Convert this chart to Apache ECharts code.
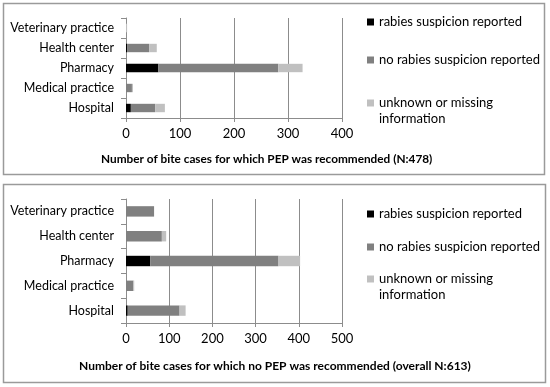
<!DOCTYPE html>
<html><head><meta charset="utf-8">
<script src="https://cdn.jsdelivr.net/npm/echarts@6/dist/echarts.min.js"></script>
<style>html,body{margin:0;padding:0;background:#fff}#c{width:550px;height:387px}</style>
</head><body><div id="c"></div>
<script>
const categories = ['Hospital', 'Medical practice', 'Pharmacy', 'Health center', 'Veterinary practice'];
const seriesNames = ['rabies suspicion reported', 'no rabies suspicion reported', 'unknown or missing information'];
// Top panel: PEP recommended (N:478)
const pepRabies   = [9, 0, 60, 2, 0];
const pepNoRabies = [45, 11, 222, 41, 0];
const pepUnknown  = [18, 2, 45, 14, 2];
// Bottom panel: no PEP recommended (overall N:613)
const noPepRabies   = [4, 0, 56, 0, 0];
const noPepNoRabies = [120, 17, 297, 83, 65];
const noPepUnknown  = [14, 2, 50, 10, 0];
const topTicks = [0, 100, 200, 300, 400];
const bottomTicks = [0, 100, 200, 300, 400, 500];
const topTitle = 'Number of bite cases for which PEP was recommended (N:478)';
const bottomTitle = 'Number of bite cases for which no PEP was recommended (overall N:613)';

const colors = ['#000000', '#808080', '#c0c0c0'];
const FONT = 'Lato';
const chart = echarts.init(document.getElementById('c'));

function xAx(idx, ticks) {
  return {
    type: 'value', gridIndex: idx, min: ticks[0], max: ticks[ticks.length - 1], interval: ticks[1] - ticks[0],
    axisLine: { show: true, lineStyle: { color: '#8c8c8c', width: 1 } },
    axisTick: { show: true, length: 4, lineStyle: { color: '#8c8c8c' } },
    splitLine: { show: true, lineStyle: { color: '#8c8c8c', width: 1 } },
    axisLabel: { color: '#000', fontFamily: FONT, fontSize: 13, margin: 9 }
  };
}
function yAx(idx) {
  return {
    type: 'category', gridIndex: idx, data: categories,
    axisLine: { show: true, lineStyle: { color: '#8c8c8c', width: 1 } },
    axisTick: { show: true, length: 5, inside: false, lineStyle: { color: '#8c8c8c' } },
    axisLabel: { color: '#000', fontFamily: FONT, fontSize: 12.5, margin: 12 }
  };
}
const data = [[pepRabies, pepNoRabies, pepUnknown], [noPepRabies, noPepNoRabies, noPepUnknown]];
const series = [];
for (let g = 0; g < 2; g++) {
  for (let s = 0; s < 3; s++) {
    series.push({
      name: seriesNames[s], type: 'bar', stack: 'g' + g, xAxisIndex: g, yAxisIndex: g,
      data: data[g][s], itemStyle: { color: colors[s] }, barCategoryGap: '58%', silent: true
    });
  }
}
const legendText = { color: '#000', fontFamily: FONT, fontSize: 13, lineHeight: 16 };
function legendA(top, gap) {
  return {
    orient: 'vertical', left: 362, top: top, itemGap: gap, icon: 'rect', itemWidth: 7, itemHeight: 7,
    selectedMode: false, data: [seriesNames[0], seriesNames[1]], textStyle: legendText
  };
}
function legendB(top) {
  return {
    orient: 'vertical', left: 362, top: top, icon: 'rect', itemWidth: 7, itemHeight: 7,
    selectedMode: false, data: [seriesNames[2]],
    formatter: n => ' \nunknown or missing\ninformation', textStyle: legendText
  };
}
chart.setOption({
  animation: false,
  grid: [
    { left: 126, top: 18, width: 216, height: 100 },
    { left: 126, top: 199, width: 216, height: 124 }
  ],
  xAxis: [xAx(0, topTicks), xAx(1, bottomTicks)],
  yAxis: [yAx(0), yAx(1)],
  legend: [legendA(9, 22), legendB(74), legendA(201, 17), legendB(250)],
  title: [
    { text: topTitle, left: 101, top: 153, padding: 0, textStyle: { fontFamily: FONT, fontSize: 11.8, fontWeight: 'bold', color: '#000' } },
    { text: bottomTitle, left: 79, top: 360, padding: 0, textStyle: { fontFamily: FONT, fontSize: 12, fontWeight: 'bold', color: '#000' } }
  ],
  graphic: [
    { type: 'rect', shape: { x: 3.5, y: 3.5, width: 541, height: 171 }, style: { fill: 'none', stroke: '#9a9a9a', lineWidth: 1.5 }, silent: true },
    { type: 'rect', shape: { x: 3.5, y: 184.5, width: 542, height: 198 }, style: { fill: 'none', stroke: '#9a9a9a', lineWidth: 1.5 }, silent: true }
  ],
  series: series
});
</script></body></html>
